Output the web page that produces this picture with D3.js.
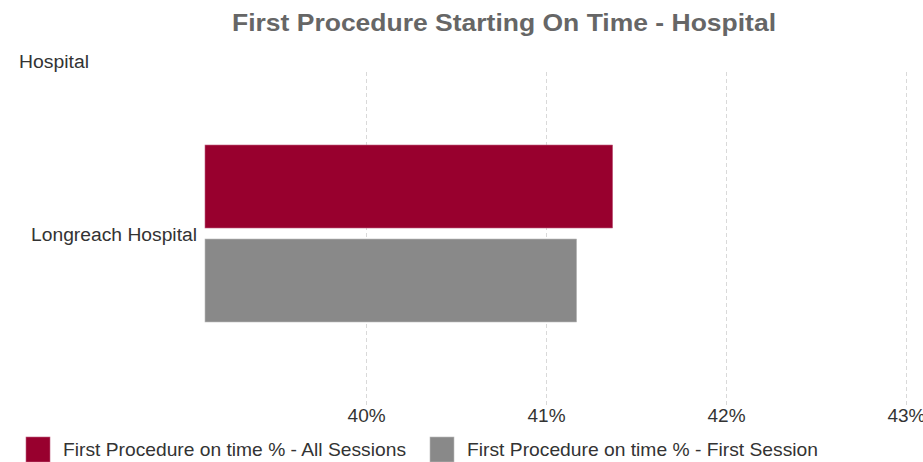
<!DOCTYPE html>
<html><head><meta charset="utf-8">
<script src="https://cdn.jsdelivr.net/npm/d3@7"></script>
<style>body{margin:0;background:#fff}svg{display:block;font-family:"Liberation Sans",Arial,sans-serif}</style>
</head><body><svg id="c" width="923" height="462"></svg>
<script>
const categories = ["Longreach Hospital"];
const seriesNames = ["First Procedure on time % - All Sessions", "First Procedure on time % - First Session"];
const allSessions = [41.37];
const firstSession = [41.17];
const tickValues = [40, 41, 42, 43];
const colors = ["#98002e", "#898989"];

const svg = d3.select("#c");
const x = d3.scaleLinear().domain([39.105, 43.1]).range([205, 924]);
const y = d3.scaleBand().domain(categories).range([70, 397]);
const inner = d3.scaleBand().domain([0, 1]).range([0, y.bandwidth()]).paddingInner(0.117).paddingOuter(0.798);

svg.append("text").attr("x", 504).attr("y", 31).attr("text-anchor", "middle")
  .attr("font-size", 24).attr("font-weight", "bold").attr("fill", "#666")
  .attr("textLength", 544).attr("lengthAdjust", "spacingAndGlyphs")
  .text("First Procedure Starting On Time - Hospital");
svg.append("text").attr("x", 19).attr("y", 68).attr("font-size", 18).attr("fill", "#333")
  .attr("textLength", 70).attr("lengthAdjust", "spacingAndGlyphs").text("Hospital");

// grid
svg.append("g").selectAll("line").data(tickValues).join("line")
  .attr("x1", d => Math.round(x(d)) + 0.5).attr("x2", d => Math.round(x(d)) + 0.5)
  .attr("y1", 72).attr("y2", 405).attr("stroke", "#d9d9d9").attr("stroke-dasharray", "4,3");

// axis
const ax = svg.append("g").attr("transform", "translate(0,405)")
  .call(d3.axisBottom(x).tickValues(tickValues).tickFormat(d => d + "%").tickSize(0).tickPadding(0));
ax.select(".domain").remove();
ax.selectAll("text").attr("dy", null).attr("y", 17).attr("font-size", 18).attr("fill", "#333")
  .attr("font-family", "Liberation Sans, Arial, sans-serif")
  .attr("textLength", 38).attr("lengthAdjust", "spacingAndGlyphs");

const series = [allSessions, firstSession];
series.forEach((vals, i) => {
  svg.append("g").selectAll("rect").data(categories).join("rect")
    .attr("x", x.range()[0])
    .attr("y", (c) => y(c) + inner(i))
    .attr("width", (c, j) => x(vals[j]) - x.range()[0])
    .attr("height", inner.bandwidth())
    .attr("fill", colors[i]).attr("stroke", i === 0 ? "#c06080" : "#bbb").attr("stroke-width", 0.6);
});

svg.append("g").selectAll("text").data(categories).join("text")
  .attr("x", 197).attr("y", c => y(c) + y.bandwidth() / 2 + 7.5).attr("text-anchor", "end")
  .attr("font-size", 18).attr("fill", "#333")
  .attr("textLength", 166).attr("lengthAdjust", "spacingAndGlyphs").text(d => d);

// legend
const legX = [26, 430];
seriesNames.forEach((n, i) => {
  const g = svg.append("g").attr("transform", `translate(${legX[i]},437)`);
  g.append("rect").attr("width", 24).attr("height", 25).attr("fill", colors[i]).attr("stroke", i === 0 ? "#c06080" : "#bbb").attr("stroke-width", 0.6);
  g.append("text").attr("x", 37).attr("y", 19).attr("font-size", 19).attr("fill", "#333")
    .attr("textLength", i === 0 ? 343 : 351).attr("lengthAdjust", "spacingAndGlyphs").text(n);
});
</script></body></html>
